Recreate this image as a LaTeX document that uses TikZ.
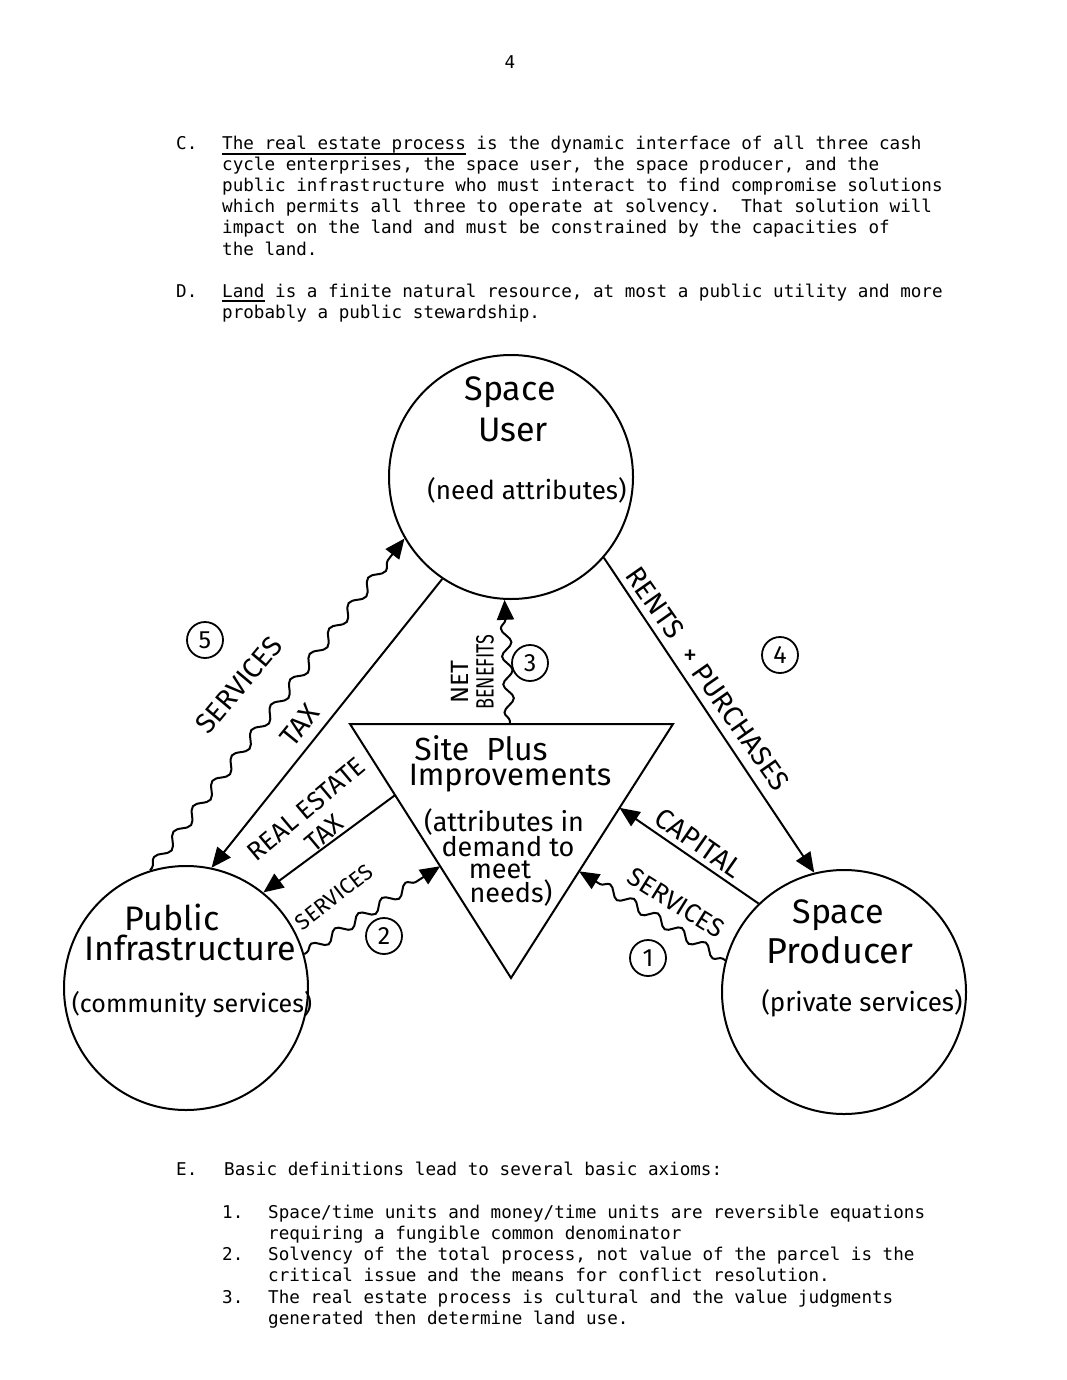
\documentclass[tikz,border=0pt]{standalone}
\usepackage{fontspec}
\usepackage{graphicx}
\setmainfont{Fira Sans}
\newfontfamily\tw{DejaVu Sans Mono}
\usetikzlibrary{arrows.meta,decorations.pathmorphing,calc}
\begin{document}
\begin{tikzpicture}[x=1pt,y=-1pt,
  txt/.style={anchor=base west,inner sep=0pt,text height=12pt,text depth=3pt,font=\tw\fontsize{17.6}{21}\selectfont},
  bigc/.style={circle,draw,line width=2pt,minimum size=244pt,inner sep=0pt},
  big/.style={inner sep=0pt,font=\fontsize{34}{36}\selectfont},
  mid/.style={inner sep=0pt,font=\fontsize{26}{28}\selectfont},
  lab/.style={inner sep=0pt,font=\fontsize{28}{30}\selectfont},
  labs/.style={inner sep=0pt,font=\fontsize{22}{24}\selectfont},
  numc/.style={circle,draw,line width=1.8pt,minimum size=36pt,inner sep=0pt,font=\fontsize{25}{25}\selectfont},
  arr/.style={-{Triangle[length=20pt,width=17pt]},line width=2pt},
  wav/.style={arr,decorate,decoration={snake,segment length=28pt,amplitude=5pt,pre length=3pt,post length=16pt}}
]
\fill[white] (0,0) rectangle (1067,1380);
\useasboundingbox (0,0) rectangle (1067,1380);

% page number
\node[inner sep=0pt,font=\tw\fontsize{17.6}{21}\selectfont] (pg) at (510,62) {4};

% paragraph C
\node[txt] (cC) at (176,150) {C.};
\node[txt] (c1) at (222,150) {The real estate process is the dynamic interface of all three cash};
\node[txt] (c2) at (222,171) {cycle enterprises, the space user, the space producer, and the};
\node[txt] (c3) at (222,192) {public infrastructure who must interact to find compromise solutions};
\node[txt] (c4) at (222,213) {which permits all three to operate at solvency.\ \ That solution will};
\node[txt] (c5) at (222,234) {impact on the land and must be constrained by the capacities of};
\node[txt] (c6) at (222,255) {the land.};
\draw[line width=1.2pt] (222,154) -- (466,154);
% paragraph D
\node[txt] (dD) at (176,297) {D.};
\node[txt] (d1) at (222,297) {Land is a finite natural resource, at most a public utility and more};
\node[txt] (d2) at (222,318) {probably a public stewardship.};
\draw[line width=1.2pt] (222,301) -- (265,301);
% paragraph E
\node[txt] (eE) at (176,1175) {E.};
\node[txt] (e0) at (224,1175) {Basic definitions lead to several basic axioms:};
\node[txt] (n1) at (222,1218) {1.};
\node[txt] (e1) at (268,1218) {Space/time units and money/time units are reversible equations};
\node[txt] (e2) at (268,1239) {requiring a fungible common denominator};
\node[txt] (n2) at (222,1260) {2.};
\node[txt] (e3) at (268,1260) {Solvency of the total process, not value of the parcel is the};
\node[txt] (e4) at (268,1281) {critical issue and the means for conflict resolution.};
\node[txt] (n3) at (222,1303) {3.};
\node[txt] (e5) at (268,1303) {The real estate process is cultural and the value judgments};
\node[txt] (e6) at (268,1324) {generated then determine land use.};

% circles
\node[bigc] (user) at (511,477) {};
\node[bigc] (infra) at (186,988) {};
\node[bigc] (prod) at (844,992) {};

\node[big] (uS) at (510,392) {Space};
\node[big] (uU) at (513,430) {User};
\node[mid] (uN) at (527,490) {(need attributes)};

\node[big] (iP) at (172,917) {Public};
\node[big] (iI) at (190,948) {Infrastructure};
\node[mid,font=\fontsize{25}{27}\selectfont] (iC) at (192,1005) {(community services)};

\node[big] (pS) at (838,915) {Space};
\node[big,font=\fontsize{36}{38}\selectfont] (pP) at (840,950) {Producer};
\node[mid] (pC) at (862,1003) {(private services)};

% triangle
\coordinate (tl) at (350,724);
\coordinate (tr) at (673,724);
\coordinate (tb) at (511,978);
\draw[line width=2pt,line join=miter] (tl) -- (tr) -- (tb) -- cycle;
\node[big,font=\fontsize{32}{34}\selectfont] (t1) at (481,748) {Site\ \ Plus};
\node[big,font=\fontsize{31}{33}\selectfont] (t2) at (510,778) {Improvements};
\node[mid,font=\fontsize{27}{29}\selectfont] (t3) at (504,822) {(attributes in};
\node[mid,font=\fontsize{27}{29}\selectfont] (t4) at (508,847) {demand to};
\node[mid,font=\fontsize{27}{29}\selectfont] (t5) at (500,870) {meet};
\node[mid,font=\fontsize{27}{29}\selectfont] (t6) at (511,893) {needs)};

\coordinate (retS) at ($(tl)!0.28!(tb)$);
\coordinate (s2E) at ($(tl)!0.56!(tb)$);
\coordinate (netS) at (510,724);
\coordinate (capE) at ($(tr)!0.33!(tb)$);
\coordinate (s1E) at ($(tr)!0.58!(tb)$);

% connectors
\draw[arr] (user.-124) -- (infra.78);
\draw[wav,decoration={segment length=32pt}] (infra.107) -- (user.-150);
\draw[arr] (retS) -- (infra.51);
\draw[wav] (infra.16) -- (s2E);
\draw[wav] (netS) -- (user.-93);
\draw[arr] (user.-41) -- (prod.104);
\draw[arr] (prod.134) -- (capE);
\draw[wav] (prod.165) -- (s1E);

% labels
\node[lab,rotate=51] (lTax) at (300,725) {TAX};
\node[lab,rotate=50] (lS5) at (239,685) {SERVICES};
\node[numc] (n5) at (205,640) {5};
\node[lab,font=\fontsize{26}{28}\selectfont,rotate=40] (lRE) at (306,809) {REAL ESTATE};
\node[lab,font=\fontsize{26}{28}\selectfont,rotate=40] (lRT) at (324,833) {TAX};
\node[labs,rotate=38] (lS2) at (334,897) {SERVICES};
\node[numc] (n2c) at (384,936) {2};
\node[labs,rotate=90,font=\fontsize{25}{27}\selectfont] (lNet) at (460,682) {NET};
\node[labs,rotate=90,font=\fontsize{25}{27}\selectfont] (lBen) at (485,672) {\scalebox{0.72}[1]{BENEFITS}};
\node[numc] (n3c) at (530,663) {3};
\node[lab,rotate=-55] (lR) at (655,603) {RENTS};
\node[lab] (lPl) at (690,657) {+};
\node[lab,rotate=-55] (lPu) at (741,727) {PURCHASES};
\node[numc] (n4) at (780,655) {4};
\node[lab,rotate=-35] (lCap) at (699,843) {CAPITAL};
\node[lab,font=\fontsize{26}{28}\selectfont,rotate=-32] (lS1) at (676,903) {SERVICES};
\node[numc] (n1c) at (648,958) {1};
\end{tikzpicture}
\end{document}
